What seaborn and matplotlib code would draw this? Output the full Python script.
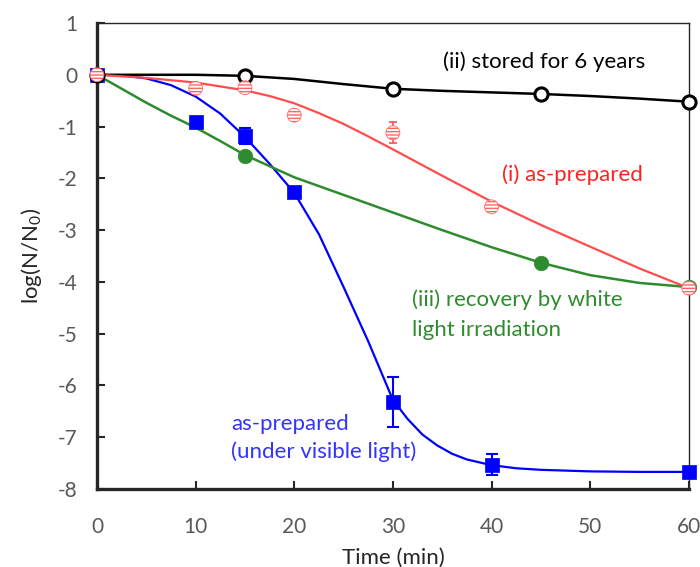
import numpy as np
import pandas as pd
import seaborn as sns
import matplotlib
matplotlib.use("Agg")
import matplotlib.pyplot as plt

# ---- measured points ----
t_blue = [0, 10, 15, 20, 30, 40, 60]
y_blue = [0, -0.91, -1.18, -2.26, -6.32, -7.53, -7.67]
e_blue = [0, 0, 0.15, 0, 0.49, 0.2, 0]

t_red = [0, 10, 15, 20, 30, 40, 60]
y_red = [0, -0.26, -0.25, -0.78, -1.12, -2.55, -4.12]
e_red = [0, 0.08, 0.1, 0.08, 0.2, 0.08, 0.08]

t_green = [0, 15, 45, 60]
y_green = [0, -1.57, -3.63, -4.10]

t_black = [0, 15, 30, 45, 60]
y_black = [0, -0.02, -0.27, -0.37, -0.52]

# ---- fitted curves ----
ct_blue = [0, 2.5, 5, 7.5, 10, 12.5, 15, 17.5, 20, 22.5, 25, 27.5, 30, 31.5, 33, 34.5, 36, 37.5, 40, 42.5, 45, 50, 55, 60]
cy_blue = [0, -0.01, -0.07, -0.2, -0.42, -0.75, -1.2, -1.72, -2.28, -3.08, -4.1, -5.15, -6.28, -6.65, -6.95, -7.16, -7.32, -7.43, -7.54, -7.6, -7.63, -7.66, -7.67, -7.67]

ct_red = [0, 5, 10, 15, 17.5, 20, 22.5, 25, 27.5, 30, 35, 40, 45, 50, 55, 60]
cy_red = [0, -0.06, -0.15, -0.3, -0.41, -0.55, -0.74, -0.95, -1.19, -1.44, -1.95, -2.45, -2.9, -3.32, -3.74, -4.12]

ct_green = [0, 2.5, 5, 7.5, 10, 12.5, 15, 20, 25, 30, 35, 40, 45, 50, 55, 60]
cy_green = [0, -0.27, -0.54, -0.79, -1.02, -1.28, -1.55, -1.98, -2.32, -2.66, -3.0, -3.33, -3.63, -3.87, -4.02, -4.1]

ct_black = [0, 5, 10, 15, 20, 25, 30, 35, 40, 45, 50, 55, 60]
cy_black = [0, 0, 0, -0.02, -0.08, -0.18, -0.27, -0.31, -0.34, -0.37, -0.41, -0.46, -0.52]

sns.set_style("ticks")
plt.rcParams['font.family'] = ['Lato', 'DejaVu Sans']
plt.rcParams['mathtext.default'] = 'regular'
plt.rcParams['axes.unicode_minus'] = False
plt.rcParams['hatch.linewidth'] = 1.0

fig = plt.figure(figsize=(7, 5.67), dpi=100)
ax = fig.add_axes([0.1386, 0.1376, 0.8454, 0.8218])

blue = "#0000ff"
red = "#ff4d4d"
green = "#2e8b2e"
black = "#000000"

# curves
sns.lineplot(x=ct_blue, y=cy_blue, color=blue, lw=1.6, sort=False, ax=ax)
sns.lineplot(x=ct_green, y=cy_green, color=green, lw=1.8, sort=False, ax=ax)
sns.lineplot(x=ct_black, y=cy_black, color=black, lw=1.8, sort=False, ax=ax)
sns.lineplot(x=ct_red, y=cy_red, color=red, lw=1.6, sort=False, ax=ax)

# error bars
ax.errorbar(t_blue, y_blue, yerr=e_blue, fmt='none', ecolor=blue, elinewidth=1.5,
            capsize=4, capthick=1.5, zorder=3, clip_on=False)
ax.errorbar(t_red, y_red, yerr=e_red, fmt='none', ecolor=red, elinewidth=1.2,
            capsize=3, capthick=1.2, zorder=3, clip_on=False)

# points
sns.scatterplot(x=t_blue, y=y_blue, marker='s', s=110, color=blue, edgecolor=blue,
                linewidth=0.5, zorder=4, clip_on=False, ax=ax)
sns.scatterplot(x=t_green, y=y_green, marker='o', s=110, color=green, edgecolor=green,
                linewidth=0.5, zorder=4, clip_on=False, ax=ax)
sns.scatterplot(x=t_black, y=y_black, marker='o', s=90, facecolor='white', edgecolor=black,
                linewidth=2.2, zorder=5, clip_on=False, ax=ax)
sns.scatterplot(x=t_red, y=y_red, marker='o', s=100, facecolor='white', edgecolor="#ff6666",
                hatch='-----', linewidth=0.6, zorder=6, clip_on=False, ax=ax)

ax.set_xlim(0, 60)
ax.set_ylim(-8, 1)
ax.set_xticks(range(0, 61, 10))
ax.set_yticks(range(-8, 2))
ax.tick_params(direction='in', length=6, width=1.5, labelsize=15,
               labelcolor="#595959")
ax.tick_params(axis='y', pad=14)
ax.tick_params(axis='x', pad=20)
for side in ['left', 'bottom']:
    ax.spines[side].set_linewidth(2.4)
for side in ['top', 'right']:
    ax.spines[side].set_linewidth(1.0)

ax.set_xlabel("Time (min)", fontsize=16, labelpad=8)
ax.set_ylabel("log(N/N$_0$)", fontsize=16, labelpad=10)

fs = 16
ax.text(35.1, 0.25, "(ii) stored for 6 years", color=black, fontsize=fs, va='center')
ax.text(41.1, -1.93, "(i) as-prepared", color="#ff2020", fontsize=fs, va='center')
ax.text(31.9, -4.35, "(iii) recovery by white", color=green, fontsize=fs, va='center')
ax.text(31.9, -4.93, "light irradiation", color=green, fontsize=fs, va='center')
ax.text(13.6, -6.74, "as-prepared", color="#3333ff", fontsize=fs, va='center')
ax.text(13.6, -7.28, "(under visible light)", color="#3333ff", fontsize=fs, va='center')

fig.savefig("out.png", dpi=100)
